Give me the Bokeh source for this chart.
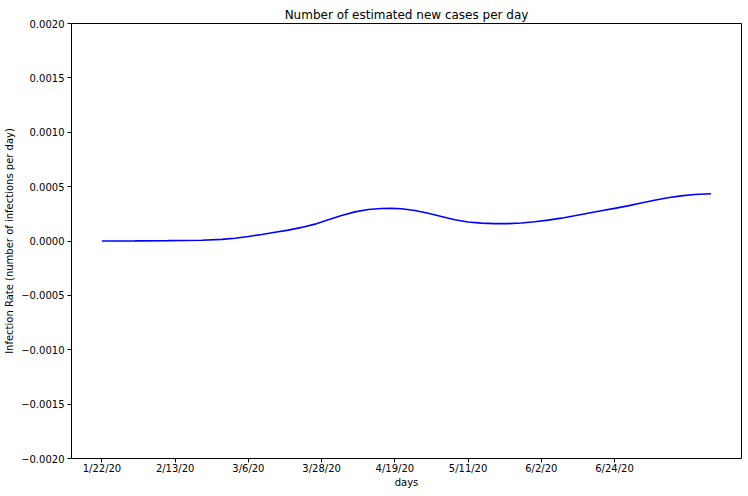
from bokeh.plotting import figure
from bokeh.models import Range1d, FixedTicker, CustomJSTickFormatter
from bokeh.embed import file_html
from bokeh.resources import INLINE

# days since 1/22/20
days = [0, 10, 20, 30, 36, 40, 44, 48, 52, 56, 60, 64, 68, 72, 76, 80, 84, 87,
        90, 94, 98, 102, 106, 110, 114, 118, 122, 126, 130, 134, 138, 142, 146,
        150, 154, 158, 162, 166, 170, 174, 178, 183]
# infection rate (per day)
rate = [0.0, 0.000001, 0.000003, 0.000007, 0.000015, 0.000025, 0.000042, 0.00006,
        0.00008, 0.0001, 0.000125, 0.000155, 0.000195, 0.000235, 0.000268, 0.00029,
        0.000299, 0.0003, 0.000297, 0.00028, 0.000255, 0.000225, 0.000196, 0.000175,
        0.000164, 0.00016, 0.00016, 0.000166, 0.000177, 0.000192, 0.00021, 0.000232,
        0.000255, 0.000278, 0.0003, 0.000323, 0.00035, 0.000375, 0.000397, 0.000415,
        0.000428, 0.000435]

xtick_pos = [0, 22, 44, 66, 88, 110, 132, 154]
xtick_labels = ["1/22/20", "2/13/20", "3/6/20", "3/28/20", "4/19/20", "5/11/20", "6/2/20", "6/24/20"]
ytick_vals = [-0.002, -0.0015, -0.001, -0.0005, 0.0, 0.0005, 0.001, 0.0015, 0.002]

FONT = "DejaVu Sans"

p = figure(width=748, height=496, output_backend="svg", toolbar_location=None,
           x_range=Range1d(-9.15, 192.15), y_range=Range1d(-0.002, 0.002),
           title="Number of estimated new cases per day",
           min_border_left=71, min_border_right=7, min_border_top=23, min_border_bottom=38)

p.line(days, rate, line_color="blue", line_width=1.6)

p.title.align = "center"
p.title.text_font = FONT
p.title.text_font_size = "12px"
p.title.text_font_style = "normal"
p.title.text_color = "black"
p.title.standoff = 4

p.outline_line_color = "black"
p.outline_line_width = 1
p.outline_line_alpha = 1
p.xgrid.visible = False
p.ygrid.visible = False
p.background_fill_color = "white"
p.border_fill_color = "white"

p.xaxis.ticker = FixedTicker(ticks=xtick_pos)
p.xaxis.major_label_overrides = {k: v for k, v in zip(xtick_pos, xtick_labels)}
p.yaxis.ticker = FixedTicker(ticks=ytick_vals)
p.yaxis.formatter = CustomJSTickFormatter(code="""
return (tick < -1e-12 ? '\\u2212' : '') + Math.abs(tick).toFixed(4);
""")

for ax in (p.xaxis[0], p.yaxis[0]):
    ax.axis_line_color = None
    ax.minor_tick_line_color = None
    ax.major_tick_out = 4
    ax.major_tick_in = 0
    ax.major_tick_line_color = "black"
    ax.major_label_text_font = FONT
    ax.major_label_text_font_size = "10px"
    ax.major_label_text_color = "black"
    ax.axis_label_text_font = FONT
    ax.axis_label_text_font_size = "10px"
    ax.axis_label_text_font_style = "normal"
    ax.axis_label_text_color = "black"

p.xaxis.major_label_standoff = 0
p.xaxis.axis_label_standoff = 0
p.yaxis.major_label_standoff = 3
p.yaxis.axis_label_standoff = 3

p.xaxis.axis_label = "days"
p.yaxis.axis_label = "Infection Rate (number of infections per day)"

open("out.html", "w").write(file_html(p, INLINE))
